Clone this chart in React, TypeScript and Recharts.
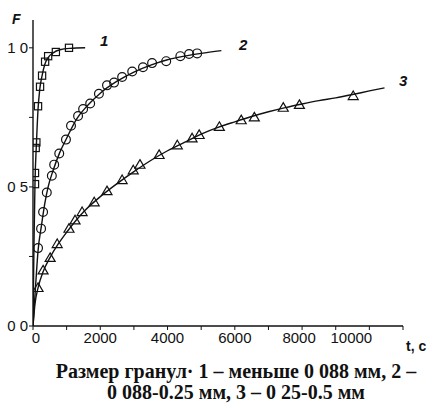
import { ComposedChart, Line, Scatter, XAxis, YAxis } from 'recharts';

// measured points (t, c ; F)
const squares1 = [
  { t: 60, F: 0.51 },
  { t: 60, F: 0.55 },
  { t: 80, F: 0.64 },
  { t: 100, F: 0.66 },
  { t: 150, F: 0.79 },
  { t: 210, F: 0.86 },
  { t: 270, F: 0.9 },
  { t: 360, F: 0.95 },
  { t: 450, F: 0.97 },
  { t: 680, F: 0.985 },
  { t: 1070, F: 1.0 },
];

const circles2 = [
  { t: 150, F: 0.28 },
  { t: 240, F: 0.35 },
  { t: 300, F: 0.41 },
  { t: 410, F: 0.48 },
  { t: 560, F: 0.54 },
  { t: 630, F: 0.58 },
  { t: 780, F: 0.62 },
  { t: 980, F: 0.67 },
  { t: 1130, F: 0.72 },
  { t: 1340, F: 0.755 },
  { t: 1490, F: 0.78 },
  { t: 1700, F: 0.8 },
  { t: 1960, F: 0.835 },
  { t: 2200, F: 0.865 },
  { t: 2410, F: 0.875 },
  { t: 2650, F: 0.895 },
  { t: 2950, F: 0.915 },
  { t: 3270, F: 0.93 },
  { t: 3540, F: 0.945 },
  { t: 3960, F: 0.952 },
  { t: 4380, F: 0.97 },
  { t: 4640, F: 0.978 },
  { t: 4880, F: 0.98 },
];

const triangles3 = [
  { t: 150, F: 0.137 },
  { t: 300, F: 0.2 },
  { t: 510, F: 0.245 },
  { t: 720, F: 0.295 },
  { t: 1070, F: 0.35 },
  { t: 1250, F: 0.38 },
  { t: 1460, F: 0.41 },
  { t: 1820, F: 0.445 },
  { t: 2200, F: 0.485 },
  { t: 2650, F: 0.525 },
  { t: 2980, F: 0.56 },
  { t: 3180, F: 0.58 },
  { t: 3750, F: 0.615 },
  { t: 4290, F: 0.65 },
  { t: 4730, F: 0.675 },
  { t: 4940, F: 0.687 },
  { t: 5540, F: 0.716 },
  { t: 6190, F: 0.74 },
  { t: 6580, F: 0.75 },
  { t: 7440, F: 0.785 },
  { t: 7920, F: 0.795 },
  { t: 9520, F: 0.827 },
];

// fitted curves
const curve1 = [
  { t: 0, F: 0 },
  { t: 30, F: 0.3 },
  { t: 60, F: 0.52 },
  { t: 100, F: 0.65 },
  { t: 150, F: 0.78 },
  { t: 200, F: 0.85 },
  { t: 270, F: 0.9 },
  { t: 350, F: 0.94 },
  { t: 450, F: 0.965 },
  { t: 600, F: 0.982 },
  { t: 800, F: 0.993 },
  { t: 1100, F: 0.998 },
  { t: 1550, F: 1.0 },
];

const curve2 = [
  { t: 0, F: 0 },
  { t: 80, F: 0.15 },
  { t: 150, F: 0.27 },
  { t: 250, F: 0.36 },
  { t: 350, F: 0.44 },
  { t: 450, F: 0.5 },
  { t: 600, F: 0.56 },
  { t: 800, F: 0.625 },
  { t: 1000, F: 0.675 },
  { t: 1300, F: 0.745 },
  { t: 1600, F: 0.79 },
  { t: 2000, F: 0.837 },
  { t: 2500, F: 0.88 },
  { t: 3000, F: 0.913 },
  { t: 3500, F: 0.938 },
  { t: 4000, F: 0.957 },
  { t: 4500, F: 0.97 },
  { t: 5000, F: 0.98 },
  { t: 5600, F: 0.99 },
];

const curve3 = [
  { t: 0, F: 0 },
  { t: 60, F: 0.08 },
  { t: 150, F: 0.137 },
  { t: 300, F: 0.195 },
  { t: 500, F: 0.245 },
  { t: 750, F: 0.295 },
  { t: 1000, F: 0.337 },
  { t: 1500, F: 0.41 },
  { t: 2000, F: 0.465 },
  { t: 2500, F: 0.512 },
  { t: 3000, F: 0.555 },
  { t: 3500, F: 0.595 },
  { t: 4000, F: 0.63 },
  { t: 4500, F: 0.66 },
  { t: 5000, F: 0.69 },
  { t: 5500, F: 0.714 },
  { t: 6000, F: 0.734 },
  { t: 6500, F: 0.753 },
  { t: 7000, F: 0.77 },
  { t: 7500, F: 0.785 },
  { t: 8000, F: 0.798 },
  { t: 8500, F: 0.81 },
  { t: 9000, F: 0.82 },
  { t: 9500, F: 0.832 },
  { t: 10000, F: 0.845 },
  { t: 10450, F: 0.856 },
];

const xTicks = [0, 1000, 2000, 3000, 4000, 5000, 6000, 7000, 8000, 9000, 10000, 11000];
const xLabels: Record<number, string> = {
  0: '0',
  2000: '2000',
  4000: '4000',
  6000: '6000',
  8000: '8000',
  10000: '10000',
};
const yTicks = [0, 0.25, 0.5, 0.75, 1.0];
const yLabels: Record<number, string> = { 0: '0 0', 0.5: '0 5', 1: '1 0' };

const captionLines = [
  'Размер гранул· 1 – меньше 0 088 мм, 2 –',
  '0 088-0.25 мм, 3 – 0 25-0.5 мм',
];

const ink = '#111';
const sans = 'Arial, "Liberation Sans", sans-serif';

const SquareMark = (p: any) => (
  <rect x={p.cx - 3.6} y={p.cy - 3.6} width={7.2} height={7.2} fill="none" stroke={ink} strokeWidth={1.2} />
);
const CircleMark = (p: any) => (
  <circle cx={p.cx} cy={p.cy} r={4.4} fill="none" stroke={ink} strokeWidth={1.2} />
);
const TriangleMark = (p: any) => (
  <path
    d={`M${p.cx},${p.cy - 5} L${p.cx + 5},${p.cy + 3.6} L${p.cx - 5},${p.cy + 3.6} Z`}
    fill="none"
    stroke={ink}
    strokeWidth={1.2}
  />
);

const XTick = (p: any) => {
  const v = p.payload.value as number;
  const label = xLabels[v];
  if (!label) return null;
  const shift = v === 10000 ? -18 : v === 8000 ? -3 : v === 0 ? 3 : 0;
  return (
    <text x={p.x + shift} y={p.y + 11} textAnchor="middle" fontFamily={sans} fontSize={15} fill={ink}>
      {label}
    </text>
  );
};

export default function App() {
  return (
    <div style={{ position: 'absolute', left: 0, top: 0, width: 432, height: 404, background: '#fff' }}>
      <ComposedChart width={432} height={360} margin={{ top: 20, right: 29, left: 0, bottom: 4 }}>
        <XAxis
          type="number"
          dataKey="t"
          domain={[0, 11000]}
          ticks={xTicks}
          interval={0}
          tickSize={4}
          height={30}
          axisLine={{ stroke: ink, strokeWidth: 1.4 }}
          tickLine={{ stroke: ink, strokeWidth: 1 }}
          tick={<XTick />}
          allowDataOverflow
        />
        <YAxis
          type="number"
          dataKey="F"
          domain={[0, 1.1]}
          ticks={yTicks}
          interval={0}
          width={33}
          tickSize={4}
          tickMargin={1}
          axisLine={{ stroke: ink, strokeWidth: 1.4 }}
          tickLine={{ stroke: ink, strokeWidth: 1 }}
          tickFormatter={(v: number) => yLabels[v] ?? ''}
          tick={{ fill: ink, fontSize: 15, fontFamily: sans }}
          allowDataOverflow
        />
        <Line data={curve1} dataKey="F" type="monotone" stroke={ink} strokeWidth={1.4} dot={false} isAnimationActive={false} />
        <Line data={curve2} dataKey="F" type="monotone" stroke={ink} strokeWidth={1.4} dot={false} isAnimationActive={false} />
        <Line data={curve3} dataKey="F" type="monotone" stroke={ink} strokeWidth={1.4} dot={false} isAnimationActive={false} />
        <Scatter data={squares1} dataKey="F" shape={SquareMark} isAnimationActive={false} />
        <Scatter data={circles2} dataKey="F" shape={CircleMark} isAnimationActive={false} />
        <Scatter data={triangles3} dataKey="F" shape={TriangleMark} isAnimationActive={false} />
      </ComposedChart>
      <svg width={432} height={404} style={{ position: 'absolute', left: 0, top: 0, pointerEvents: 'none' }}>
        <text x={12} y={24} fontFamily={sans} fontSize={14} fontWeight="bold" fontStyle="italic" fill={ink}>F</text>
        <text x={100} y={46} fontFamily={sans} fontSize={15} fontWeight="bold" fontStyle="italic" fill={ink}>1</text>
        <text x={239} y={50} fontFamily={sans} fontSize={15} fontWeight="bold" fontStyle="italic" fill={ink}>2</text>
        <text x={399} y={86} fontFamily={sans} fontSize={15} fontWeight="bold" fontStyle="italic" fill={ink}>3</text>
        <text x={406} y={351} fontFamily={sans} fontSize={14} fontWeight="bold" fill={ink}>t, c</text>
        {captionLines.map((line, i) => (
          <text
            key={i}
            x={236}
            y={378 + i * 21}
            textAnchor="middle"
            fontFamily='"Liberation Serif", "Times New Roman", serif'
            fontSize={20}
            fontWeight="bold"
            fill={ink}
          >
            {line}
          </text>
        ))}
      </svg>
    </div>
  );
}
